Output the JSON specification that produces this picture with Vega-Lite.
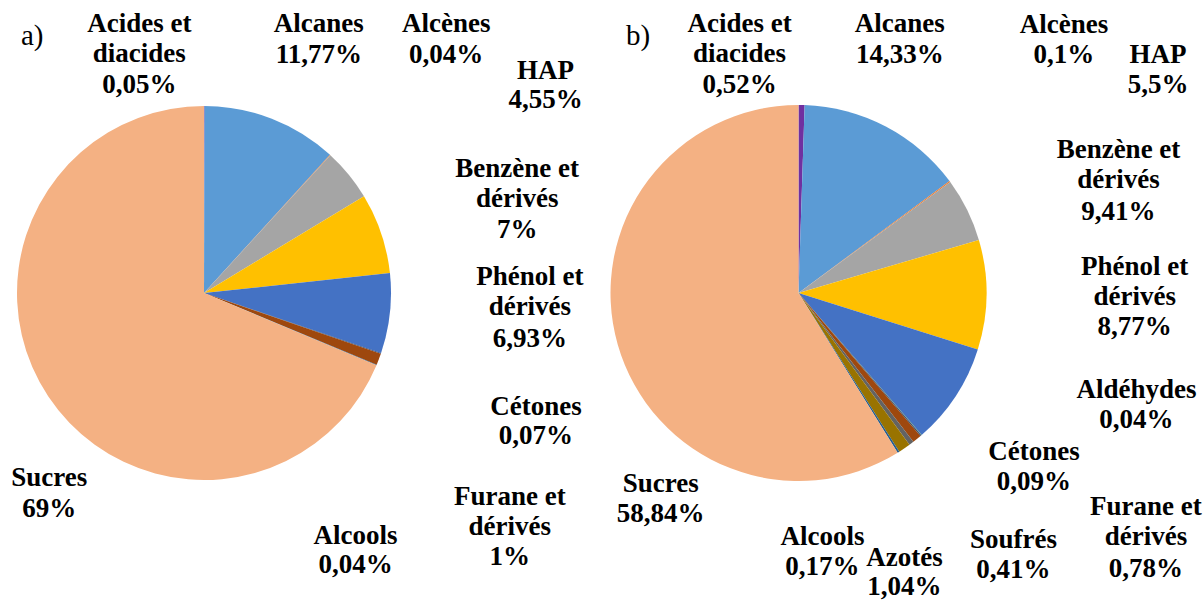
{
  "$schema": "https://vega.github.io/schema/vega-lite/v6.json",
  "width": 1204,
  "height": 586,
  "autosize": {"type": "none"},
  "padding": {"left": 0, "top": 0, "right": 0, "bottom": 16},
  "background": "white",
  "config": {
    "view": {"stroke": null},
    "locale": {"number": {"decimal": ",", "thousands": " ", "grouping": [3], "currency": ["", " €"], "percent": "%"}},
    "text": {"fontSize": 27, "fontWeight": "bold", "color": "#000000", "align": "center", "baseline": "alphabetic", "lineHeight": 30, "lineBreak": "\n"}
  },
  "data": {"values": [
    {"graphique": "a", "ordre": 1, "famille": "Acides et\ndiacides", "part": 0.0005},
    {"graphique": "a", "ordre": 2, "famille": "Alcanes", "part": 0.1177},
    {"graphique": "a", "ordre": 3, "famille": "Alcènes", "part": 0.0004},
    {"graphique": "a", "ordre": 4, "famille": "HAP", "part": 0.0455},
    {"graphique": "a", "ordre": 5, "famille": "Benzène et\ndérivés", "part": 0.07},
    {"graphique": "a", "ordre": 6, "famille": "Phénol et\ndérivés", "part": 0.0693},
    {"graphique": "a", "ordre": 8, "famille": "Cétones", "part": 0.0007},
    {"graphique": "a", "ordre": 9, "famille": "Furane et\ndérivés", "part": 0.01},
    {"graphique": "a", "ordre": 12, "famille": "Alcools", "part": 0.0004},
    {"graphique": "a", "ordre": 13, "famille": "Sucres", "part": 0.69},
    {"graphique": "b", "ordre": 1, "famille": "Acides et\ndiacides", "part": 0.0052},
    {"graphique": "b", "ordre": 2, "famille": "Alcanes", "part": 0.1433},
    {"graphique": "b", "ordre": 3, "famille": "Alcènes", "part": 0.001},
    {"graphique": "b", "ordre": 4, "famille": "HAP", "part": 0.055},
    {"graphique": "b", "ordre": 5, "famille": "Benzène et\ndérivés", "part": 0.0941},
    {"graphique": "b", "ordre": 6, "famille": "Phénol et\ndérivés", "part": 0.0877},
    {"graphique": "b", "ordre": 7, "famille": "Aldéhydes", "part": 0.0004},
    {"graphique": "b", "ordre": 8, "famille": "Cétones", "part": 0.0009},
    {"graphique": "b", "ordre": 9, "famille": "Furane et\ndérivés", "part": 0.0078},
    {"graphique": "b", "ordre": 10, "famille": "Soufrés", "part": 0.0041},
    {"graphique": "b", "ordre": 11, "famille": "Azotés", "part": 0.0104},
    {"graphique": "b", "ordre": 12, "famille": "Alcools", "part": 0.0017},
    {"graphique": "b", "ordre": 13, "famille": "Sucres", "part": 0.5884}
  ]},
  "resolve": {"scale": {"theta": "independent"}},
  "layer": [
    {
      "transform": [{"filter": "datum.graphique === 'a'"}],
      "encoding": {
        "x": {"field": "graphique", "type": "nominal", "scale": {"type": "point", "domain": ["a", "b"], "range": [204, 798.5], "padding": 0}, "axis": null},
        "theta": {"field": "part", "type": "quantitative", "stack": true},
        "detail": {"field": "famille", "type": "nominal"},
        "order": {"field": "ordre", "type": "quantitative"}
      },
      "layer": [
        {"mark": {"type": "arc", "outerRadius": 187},
         "encoding": {"color": {"field": "famille", "type": "nominal", "legend": null,
           "scale": {"domain": ["Acides et\ndiacides", "Alcanes", "Alcènes", "HAP", "Benzène et\ndérivés", "Phénol et\ndérivés", "Aldéhydes", "Cétones", "Furane et\ndérivés", "Soufrés", "Azotés", "Alcools", "Sucres"],
                     "range": ["#7030A0", "#5B9BD5", "#ED7D31", "#A5A5A5", "#FFC000", "#4472C4", "#70AD47", "#264478", "#9E480E", "#636363", "#997300", "#255E91", "#F4B183"]}}}},
        {"mark": {"type": "text", "font": "Liberation Serif", "radius": 187, "dx": -65, "dy": -74}, "encoding": {"text": {"field": "famille", "type": "nominal", "condition": {"test": "datum.ordre !== 1", "value": ""}}}},
        {"mark": {"type": "text", "font": "Liberation Serif", "radius": 187, "dx": -65, "dy": -13}, "encoding": {"text": {"field": "part", "type": "quantitative", "format": ".2~%", "condition": {"test": "datum.ordre !== 1", "value": ""}}}},
        {"mark": {"type": "text", "font": "Liberation Serif", "radius": 187, "dx": 47, "dy": -87}, "encoding": {"text": {"field": "famille", "type": "nominal", "condition": {"test": "datum.ordre !== 2", "value": ""}}}},
        {"mark": {"type": "text", "font": "Liberation Serif", "radius": 187, "dx": 47, "dy": -56}, "encoding": {"text": {"field": "part", "type": "quantitative", "format": ".2~%", "condition": {"test": "datum.ordre !== 2", "value": ""}}}},
        {"mark": {"type": "text", "font": "Liberation Serif", "radius": 187, "dx": 116, "dy": -123}, "encoding": {"text": {"field": "famille", "type": "nominal", "condition": {"test": "datum.ordre !== 3", "value": ""}}}},
        {"mark": {"type": "text", "font": "Liberation Serif", "radius": 187, "dx": 116, "dy": -92}, "encoding": {"text": {"field": "part", "type": "quantitative", "format": ".2~%", "condition": {"test": "datum.ordre !== 3", "value": ""}}}},
        {"mark": {"type": "text", "font": "Liberation Serif", "radius": 187, "dx": 197, "dy": -95}, "encoding": {"text": {"field": "famille", "type": "nominal", "condition": {"test": "datum.ordre !== 4", "value": ""}}}},
        {"mark": {"type": "text", "font": "Liberation Serif", "radius": 187, "dx": 197, "dy": -66}, "encoding": {"text": {"field": "part", "type": "quantitative", "format": ".2~%", "condition": {"test": "datum.ordre !== 4", "value": ""}}}},
        {"mark": {"type": "text", "font": "Liberation Serif", "radius": 187, "dx": 136, "dy": -56}, "encoding": {"text": {"field": "famille", "type": "nominal", "condition": {"test": "datum.ordre !== 5", "value": ""}}}},
        {"mark": {"type": "text", "font": "Liberation Serif", "radius": 187, "dx": 136, "dy": 5}, "encoding": {"text": {"field": "part", "type": "quantitative", "format": ".2~%", "condition": {"test": "datum.ordre !== 5", "value": ""}}}},
        {"mark": {"type": "text", "font": "Liberation Serif", "radius": 187, "dx": 140, "dy": -29}, "encoding": {"text": {"field": "famille", "type": "nominal", "condition": {"test": "datum.ordre !== 6", "value": ""}}}},
        {"mark": {"type": "text", "font": "Liberation Serif", "radius": 187, "dx": 140, "dy": 33}, "encoding": {"text": {"field": "part", "type": "quantitative", "format": ".2~%", "condition": {"test": "datum.ordre !== 6", "value": ""}}}},
        {"mark": {"type": "text", "font": "Liberation Serif", "radius": 187, "dx": 155, "dy": 62}, "encoding": {"text": {"field": "famille", "type": "nominal", "condition": {"test": "datum.ordre !== 8", "value": ""}}}},
        {"mark": {"type": "text", "font": "Liberation Serif", "radius": 187, "dx": 155, "dy": 91}, "encoding": {"text": {"field": "part", "type": "quantitative", "format": ".2~%", "condition": {"test": "datum.ordre !== 8", "value": ""}}}},
        {"mark": {"type": "text", "font": "Liberation Serif", "radius": 187, "dx": 131, "dy": 146}, "encoding": {"text": {"field": "famille", "type": "nominal", "condition": {"test": "datum.ordre !== 9", "value": ""}}}},
        {"mark": {"type": "text", "font": "Liberation Serif", "radius": 187, "dx": 131, "dy": 206}, "encoding": {"text": {"field": "part", "type": "quantitative", "format": ".2~%", "condition": {"test": "datum.ordre !== 9", "value": ""}}}},
        {"mark": {"type": "text", "font": "Liberation Serif", "radius": 187, "dx": -21, "dy": 179}, "encoding": {"text": {"field": "famille", "type": "nominal", "condition": {"test": "datum.ordre !== 12", "value": ""}}}},
        {"mark": {"type": "text", "font": "Liberation Serif", "radius": 187, "dx": -21, "dy": 208}, "encoding": {"text": {"field": "part", "type": "quantitative", "format": ".2~%", "condition": {"test": "datum.ordre !== 12", "value": ""}}}},
        {"mark": {"type": "text", "font": "Liberation Serif", "radius": 187, "dx": 1, "dy": 89}, "encoding": {"text": {"field": "famille", "type": "nominal", "condition": {"test": "datum.ordre !== 13", "value": ""}}}},
        {"mark": {"type": "text", "font": "Liberation Serif", "radius": 187, "dx": 1, "dy": 120}, "encoding": {"text": {"field": "part", "type": "quantitative", "format": ".2~%", "condition": {"test": "datum.ordre !== 13", "value": ""}}}}
      ]
    },
    {
      "transform": [{"filter": "datum.graphique === 'b'"}],
      "encoding": {
        "x": {"field": "graphique", "type": "nominal", "scale": {"type": "point", "domain": ["a", "b"], "range": [204, 798.5], "padding": 0}, "axis": null},
        "theta": {"field": "part", "type": "quantitative", "stack": true},
        "detail": {"field": "famille", "type": "nominal"},
        "order": {"field": "ordre", "type": "quantitative"}
      },
      "layer": [
        {"mark": {"type": "arc", "outerRadius": 188},
         "encoding": {"color": {"field": "famille", "type": "nominal", "legend": null}}},
        {"mark": {"type": "text", "font": "Liberation Serif", "radius": 188, "dx": -62, "dy": -73}, "encoding": {"text": {"field": "famille", "type": "nominal", "condition": {"test": "datum.ordre !== 1", "value": ""}}}},
        {"mark": {"type": "text", "font": "Liberation Serif", "radius": 188, "dx": -62, "dy": -12}, "encoding": {"text": {"field": "part", "type": "quantitative", "format": ".2~%", "condition": {"test": "datum.ordre !== 1", "value": ""}}}},
        {"mark": {"type": "text", "font": "Liberation Serif", "radius": 188, "dx": 14, "dy": -94}, "encoding": {"text": {"field": "famille", "type": "nominal", "condition": {"test": "datum.ordre !== 2", "value": ""}}}},
        {"mark": {"type": "text", "font": "Liberation Serif", "radius": 188, "dx": 14, "dy": -63}, "encoding": {"text": {"field": "part", "type": "quantitative", "format": ".2~%", "condition": {"test": "datum.ordre !== 2", "value": ""}}}},
        {"mark": {"type": "text", "font": "Liberation Serif", "radius": 188, "dx": 114, "dy": -149}, "encoding": {"text": {"field": "famille", "type": "nominal", "condition": {"test": "datum.ordre !== 3", "value": ""}}}},
        {"mark": {"type": "text", "font": "Liberation Serif", "radius": 188, "dx": 114, "dy": -119}, "encoding": {"text": {"field": "part", "type": "quantitative", "format": ".2~%", "condition": {"test": "datum.ordre !== 3", "value": ""}}}},
        {"mark": {"type": "text", "font": "Liberation Serif", "radius": 188, "dx": 191, "dy": -147}, "encoding": {"text": {"field": "famille", "type": "nominal", "condition": {"test": "datum.ordre !== 4", "value": ""}}}},
        {"mark": {"type": "text", "font": "Liberation Serif", "radius": 188, "dx": 191, "dy": -117}, "encoding": {"text": {"field": "part", "type": "quantitative", "format": ".2~%", "condition": {"test": "datum.ordre !== 4", "value": ""}}}},
        {"mark": {"type": "text", "font": "Liberation Serif", "radius": 188, "dx": 132, "dy": -137}, "encoding": {"text": {"field": "famille", "type": "nominal", "condition": {"test": "datum.ordre !== 5", "value": ""}}}},
        {"mark": {"type": "text", "font": "Liberation Serif", "radius": 188, "dx": 132, "dy": -75}, "encoding": {"text": {"field": "part", "type": "quantitative", "format": ".2~%", "condition": {"test": "datum.ordre !== 5", "value": ""}}}},
        {"mark": {"type": "text", "font": "Liberation Serif", "radius": 188, "dx": 179, "dy": -121}, "encoding": {"text": {"field": "famille", "type": "nominal", "condition": {"test": "datum.ordre !== 6", "value": ""}}}},
        {"mark": {"type": "text", "font": "Liberation Serif", "radius": 188, "dx": 179, "dy": -61}, "encoding": {"text": {"field": "part", "type": "quantitative", "format": ".2~%", "condition": {"test": "datum.ordre !== 6", "value": ""}}}},
        {"mark": {"type": "text", "font": "Liberation Serif", "radius": 188, "dx": 215, "dy": -37}, "encoding": {"text": {"field": "famille", "type": "nominal", "condition": {"test": "datum.ordre !== 7", "value": ""}}}},
        {"mark": {"type": "text", "font": "Liberation Serif", "radius": 188, "dx": 215, "dy": -7}, "encoding": {"text": {"field": "part", "type": "quantitative", "format": ".2~%", "condition": {"test": "datum.ordre !== 7", "value": ""}}}},
        {"mark": {"type": "text", "font": "Liberation Serif", "radius": 188, "dx": 113, "dy": 24}, "encoding": {"text": {"field": "famille", "type": "nominal", "condition": {"test": "datum.ordre !== 8", "value": ""}}}},
        {"mark": {"type": "text", "font": "Liberation Serif", "radius": 188, "dx": 113, "dy": 54}, "encoding": {"text": {"field": "part", "type": "quantitative", "format": ".2~%", "condition": {"test": "datum.ordre !== 8", "value": ""}}}},
        {"mark": {"type": "text", "font": "Liberation Serif", "radius": 188, "dx": 229, "dy": 76}, "encoding": {"text": {"field": "famille", "type": "nominal", "condition": {"test": "datum.ordre !== 9", "value": ""}}}},
        {"mark": {"type": "text", "font": "Liberation Serif", "radius": 188, "dx": 229, "dy": 138}, "encoding": {"text": {"field": "part", "type": "quantitative", "format": ".2~%", "condition": {"test": "datum.ordre !== 9", "value": ""}}}},
        {"mark": {"type": "text", "font": "Liberation Serif", "radius": 188, "dx": 102, "dy": 105}, "encoding": {"text": {"field": "famille", "type": "nominal", "condition": {"test": "datum.ordre !== 10", "value": ""}}}},
        {"mark": {"type": "text", "font": "Liberation Serif", "radius": 188, "dx": 102, "dy": 135}, "encoding": {"text": {"field": "part", "type": "quantitative", "format": ".2~%", "condition": {"test": "datum.ordre !== 10", "value": ""}}}},
        {"mark": {"type": "text", "font": "Liberation Serif", "radius": 188, "dx": 0, "dy": 118}, "encoding": {"text": {"field": "famille", "type": "nominal", "condition": {"test": "datum.ordre !== 11", "value": ""}}}},
        {"mark": {"type": "text", "font": "Liberation Serif", "radius": 188, "dx": 0, "dy": 147}, "encoding": {"text": {"field": "part", "type": "quantitative", "format": ".2~%", "condition": {"test": "datum.ordre !== 11", "value": ""}}}},
        {"mark": {"type": "text", "font": "Liberation Serif", "radius": 188, "dx": -76, "dy": 93}, "encoding": {"text": {"field": "famille", "type": "nominal", "condition": {"test": "datum.ordre !== 12", "value": ""}}}},
        {"mark": {"type": "text", "font": "Liberation Serif", "radius": 188, "dx": -76, "dy": 123}, "encoding": {"text": {"field": "part", "type": "quantitative", "format": ".2~%", "condition": {"test": "datum.ordre !== 12", "value": ""}}}},
        {"mark": {"type": "text", "font": "Liberation Serif", "radius": 188, "dx": 43, "dy": 147}, "encoding": {"text": {"field": "famille", "type": "nominal", "condition": {"test": "datum.ordre !== 13", "value": ""}}}},
        {"mark": {"type": "text", "font": "Liberation Serif", "radius": 188, "dx": 43, "dy": 177}, "encoding": {"text": {"field": "part", "type": "quantitative", "format": ".2~%", "condition": {"test": "datum.ordre !== 13", "value": ""}}}}
      ]
    },
    {
      "data": {"values": [{"graphique": "a", "repere": "a)"}, {"graphique": "b", "repere": "b)"}]},
      "transform": [{"filter": "datum.graphique === 'a'"}],
      "mark": {"type": "text", "font": "Liberation Serif", "fontWeight": "normal", "fontSize": 29, "align": "left", "dx": -183, "dy": -248},
      "encoding": {
        "x": {"field": "graphique", "type": "nominal", "scale": {"type": "point", "domain": ["a", "b"], "range": [204, 798.5], "padding": 0}, "axis": null},
        "text": {"field": "repere", "type": "nominal"}
      }
    },
    {
      "data": {"values": [{"graphique": "a", "repere": "a)"}, {"graphique": "b", "repere": "b)"}]},
      "transform": [{"filter": "datum.graphique === 'b'"}],
      "mark": {"type": "text", "font": "Liberation Serif", "fontWeight": "normal", "fontSize": 29, "align": "left", "dx": -172.5, "dy": -248},
      "encoding": {
        "x": {"field": "graphique", "type": "nominal", "scale": {"type": "point", "domain": ["a", "b"], "range": [204, 798.5], "padding": 0}, "axis": null},
        "text": {"field": "repere", "type": "nominal"}
      }
    }
  ]
}
